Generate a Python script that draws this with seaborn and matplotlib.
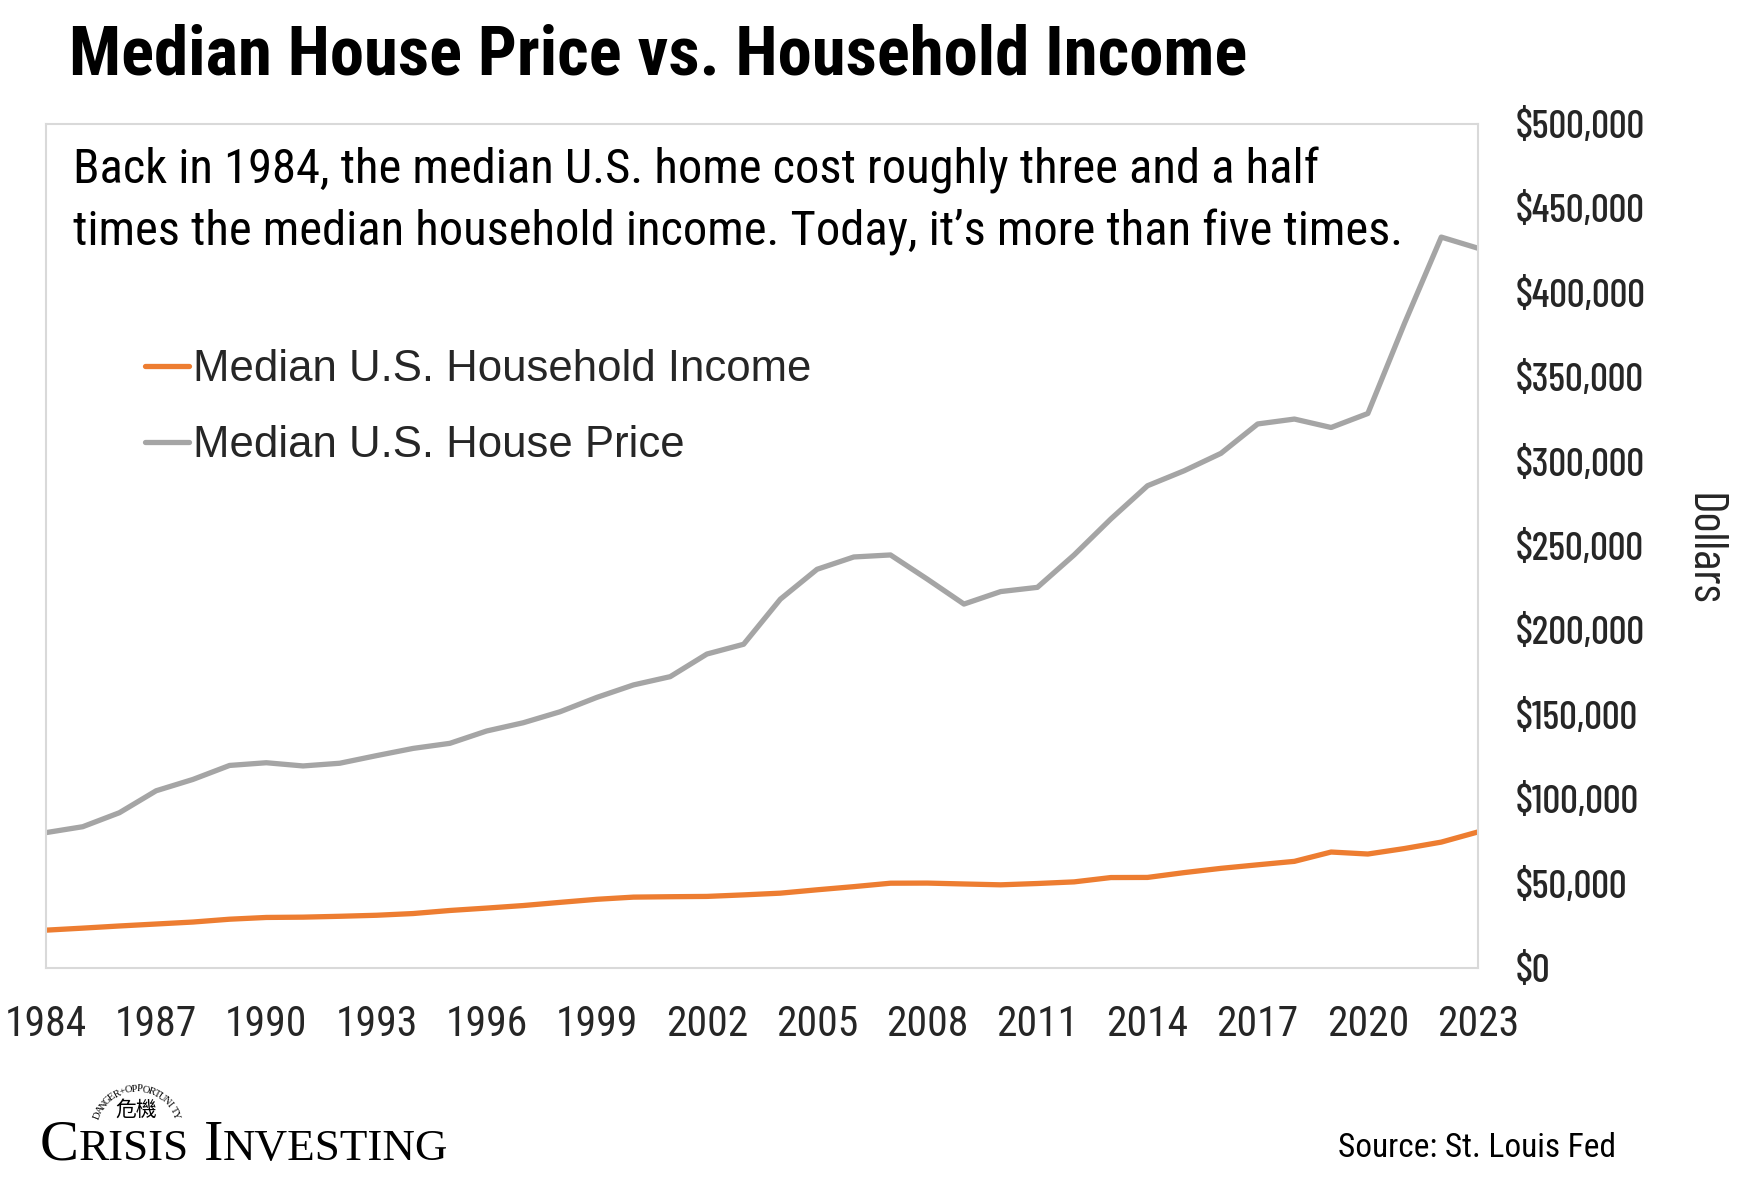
import matplotlib
matplotlib.use("Agg")
import matplotlib.pyplot as plt
import matplotlib.ticker as mticker
from matplotlib import font_manager
from matplotlib.offsetbox import TextArea, HPacker, AnchoredOffsetbox
import numpy as np
import pandas as pd
import seaborn as sns


years = list(range(1984, 2024))

# median household income (nominal dollars)
income = [22415, 23618, 24897, 26061, 27225, 28906, 29943, 30126, 30636, 31241,
          32264, 34076, 35492, 37005, 38885, 40696, 41990, 42228, 42409, 43318,
          44334, 46326, 48201, 50233, 50303, 49777, 49276, 50054, 51017, 53585,
          53657, 56516, 59039, 61136, 63179, 68703, 67521, 70784, 74580, 80610]

# median house price
price = [80200, 83700, 92000, 105000, 111700, 120000, 121600, 119700, 121300, 125800,
         130100, 133100, 140400, 145300, 151800, 160300, 167700, 172600, 186000, 191800,
         218500, 236200, 243500, 244700, 230400, 215600, 223000, 225500, 244700, 266000,
         285700, 294600, 304900, 322300, 325200, 320200, 328500, 382000, 433000, 426400]

series_names = ["Median U.S. Household Income", "Median U.S. House Price"]
series_colors = ["#ED7D31", "#A5A5A5"]
x_ticks = list(range(1984, 2024, 3))
y_ticks = list(range(0, 500001, 50000))


def pick_font(candidates):
    names = {f.name for f in font_manager.fontManager.ttflist}
    for c in candidates:
        if c in names:
            return c
    return "DejaVu Sans"


sns.set_theme(style="white")
narrow = pick_font(["Roboto Condensed", "PT Sans Narrow", "Archivo Narrow", "Asap Condensed"])
tight = pick_font(["Barlow Condensed", "Fira Sans Extra Condensed", "Roboto Condensed"])
regular = pick_font(["Liberation Sans", "Arimo", "DejaVu Sans"])
serif = pick_font(["Liberation Serif", "DejaVu Serif"])
plt.rcParams["font.family"] = [narrow, "DejaVu Sans"]

df = pd.DataFrame({"year": years, series_names[0]: income, series_names[1]: price})
long_df = df.melt(id_vars="year", var_name="series", value_name="dollars")

W, H = 1746, 1198
fig = plt.figure(figsize=(W / 100, H / 100), dpi=100)
ax = fig.add_axes([46 / W, 1 - 968 / H, (1478 - 46) / W, (968 - 124) / H])

sns.lineplot(data=long_df, x="year", y="dollars", hue="series",
             hue_order=series_names, palette=dict(zip(series_names, series_colors)),
             linewidth=3.8, ax=ax)

ax.set_xlim(1984, 2023)
ax.set_ylim(0, 500000)
ax.set_xticks(x_ticks)
ax.set_yticks(y_ticks)
ax.yaxis.set_major_formatter(mticker.StrMethodFormatter("${x:,.0f}"))
ax.yaxis.tick_right()
ax.tick_params(axis="both", length=0)
ax.tick_params(axis="x", labelsize=30, pad=26)
ax.tick_params(axis="y", labelsize=28.5, pad=27)
for lab in ax.get_yticklabels():
    lab.set_horizontalalignment("left")
    lab.set_family([tight, "DejaVu Sans"])
    lab.set_fontweight(500)
ax.set_xlabel("")
ax.set_ylabel("Dollars", fontsize=35, rotation=270, va="center",
              family=[tight, "DejaVu Sans"], fontweight="normal")
ax.yaxis.set_label_position("right")
ax.yaxis.set_label_coords(1.172, 0.496)
for sp in ax.spines.values():
    sp.set_visible(True)
    sp.set_color("#D9D9D9")
    sp.set_linewidth(1.5)
ax.grid(False)

# legend inside the box
leg = ax.legend(loc="upper left", bbox_to_anchor=(0.069, 0.733), frameon=False,
                handlelength=1.0, handletextpad=0.1, labelspacing=0.8,
                borderpad=0, borderaxespad=0, prop={"family": regular, "size": 31.5})
for line in leg.get_lines():
    line.set_linewidth(3.8)

# annotation text
ax.text(0.019, 0.973,
        "Back in 1984, the median U.S. home cost roughly three and a half\n"
        "times the median household income. Today, it\u2019s more than five times.",
        transform=ax.transAxes, ha="left", va="top", fontsize=35,
        linespacing=1.42, color="black")

# title
fig.text(69 / W, 1 - 56 / H, "Median House Price vs. Household Income",
         fontsize=49.5, fontweight="bold", ha="left", va="center", color="black")

# source
fig.text(1338 / W, 1 - 1148 / H, "Source: St. Louis Fed", fontsize=24,
         ha="left", va="center", color="black")

# logo: small caps wordmark
big, small = 42, 32.5
parts = [("C", big), ("RISIS", small), (" ", big), ("I", big), ("NVESTING", small)]
boxes = [TextArea(t, textprops=dict(fontsize=s, family=serif, color="black")) for t, s in parts]
logo = AnchoredOffsetbox(loc="lower left", child=HPacker(children=boxes, align="baseline", pad=0, sep=0),
                         bbox_to_anchor=(40 / W, 1 - 1172 / H), bbox_transform=fig.transFigure,
                         frameon=False, pad=0, borderpad=0)
fig.add_artist(logo)

# arched "DANGER + OPPORTUNITY" and the two characters
arc_text = "DANGER+OPPORTUNITY"
cx, cy, r = 137, 1131, 42
angles = np.linspace(-68, 68, len(arc_text))
for ch, a in zip(arc_text, angles):
    px = cx + r * np.sin(np.radians(a))
    py = cy - r * np.cos(np.radians(a))
    fig.text(px / W, 1 - py / H, ch, fontsize=7.5, family=serif, rotation=-a,
             ha="center", va="center", rotation_mode="anchor", color="black")
fig.text(136 / W, 1 - 1110 / H, "危機", fontsize=15,
         family=["Noto Sans CJK TC", "DejaVu Sans"], ha="center", va="center", color="black")

fig.savefig("out.png", dpi=100, facecolor="white")
